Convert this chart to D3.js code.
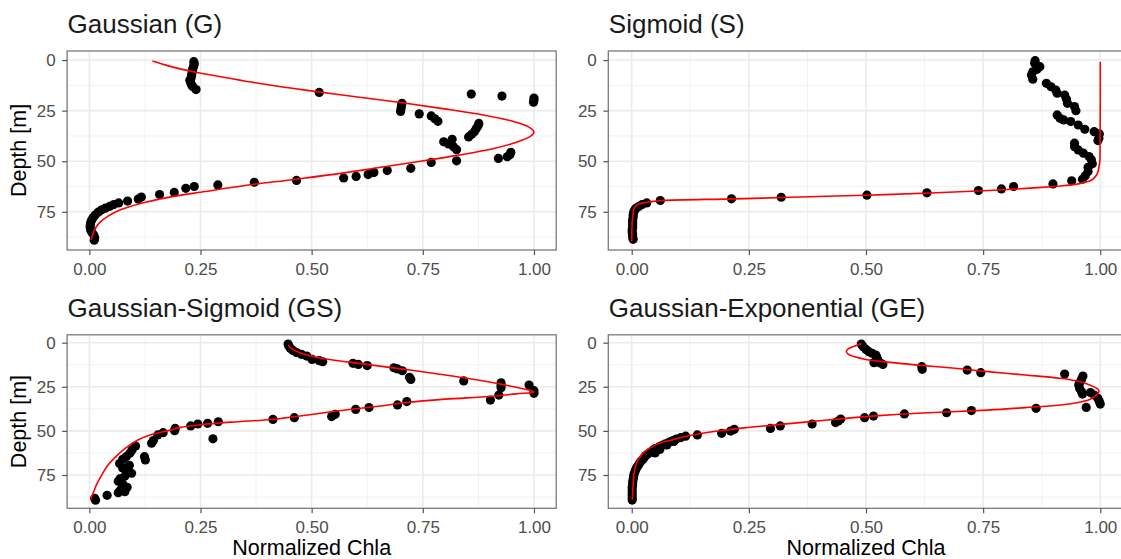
<!DOCTYPE html>
<html>
<head>
<meta charset="utf-8">
<script src="https://cdn.jsdelivr.net/npm/d3@7"></script>
<style>
body { margin: 0; background: #fff; }
text { font-family: "Liberation Sans", Arial, Helvetica, sans-serif; }
</style>
</head>
<body>
<svg id="chart" width="1121" height="559"></svg>
<script>
// panel titles and axis labels
var titles = ["Gaussian (G)", "Sigmoid (S)", "Gaussian-Sigmoid (GS)", "Gaussian-Exponential (GE)"];
var xTicks = [0, 0.25, 0.5, 0.75, 1];
var yTicks = [0, 25, 50, 75];
var xLabel = "Normalized Chla", yLabel = "Depth [m]";

// observed profiles: [normalized chla, depth]
var gPoints = [[0.235,0.8],[0.236,1.8],[0.235,2.8],[0.233,4],[0.232,5.2],[0.231,6.3],[0.230,7.5],[0.229,8.7],[0.226,10],[0.228,11.2],[0.230,12.3],[0.233,13.2],[0.240,14.6],
  [0.517,16.0],[0.859,16.8],[0.928,17.8],[1.0,18.8],[1.0,19.8],[0.999,20.8],
  [0.703,21.4],[0.702,22.6],[0.701,24.0],[0.700,25.4],[0.742,26.6],[0.769,27.6],[0.777,29.0],[0.784,30.3],
  [0.876,31.3],[0.874,32.6],[0.870,34.0],[0.866,35.4],[0.860,36.7],[0.853,38.0],
  [0.816,39.2],[0.797,40.4],[0.808,41.5],[0.819,42.8],[0.826,44.3],
  [0.948,45.6],[0.946,46.8],[0.940,47.8],[0.920,48.6],[0.826,49.8],[0.769,50.6],
  [0.723,53.5],[0.670,54.6],[0.640,55.6],[0.627,56.6],[0.600,57.5],[0.572,58.3],
  [0.466,59.5],[0.371,60.4],[0.289,61.7],[0.236,62.5],[0.217,63.4],[0.191,65.4],[0.158,66.5],[0.117,67.7],[0.110,68.7],
  [0.086,69.7],[0.066,70.6],[0.055,71.4],[0.046,72.3],[0.036,73.2],[0.028,74.0],[0.020,75.2],[0.013,76.6],[0.008,78.0],
  [0.005,79.2],[0.003,80.4],[0.002,81.6],[0.002,82.8],[0.003,84.0],[0.006,85.2],[0.010,86.5],[0.012,87.8],[0.011,89.0]];

var sPoints = [[0.861,0.3],[0.860,1.6],[0.871,3.3],[0.865,4.6],[0.856,5.8],[0.853,7.4],[0.856,9.5],
  [0.885,11.5],[0.895,13.2],[0.905,14.8],[0.908,16.4],[0.924,17.3],[0.928,19.4],[0.930,21.4],[0.945,23.0],[0.948,25.0],
  [0.908,27.1],[0.914,28.8],[0.922,29.6],[0.937,30.4],[0.953,32.1],[0.967,34.2],[0.987,35.4],[0.998,36.5],[0.997,38.7],[0.995,39.8],
  [0.945,41.1],[0.945,42.8],[0.953,44.4],[0.964,46.0],[0.976,47.7],[0.981,49.3],[0.983,51.3],[0.974,53.0],[0.974,55.1],[0.968,57.2],[0.962,58.9],
  [0.939,59.7],[0.899,61.2],[0.815,62.5],[0.789,63.7],[0.740,64.5],[0.630,65.6],[0.502,66.8],[0.319,67.8],[0.213,68.6],
  [0.061,69.4],[0.032,70.6],[0.022,71.4],[0.015,72.4],[0.009,73.3],[0.006,74.2],[0.004,75.4],[0.003,76.6],[0.003,77.8],
  [0.002,79.0],[0.002,80.2],[0.002,81.4],[0.002,82.6],[0.001,83.8],[0.001,85.0],[0.002,86.2],[0.002,87.4],[0.003,88.6]];

var gsPoints = [[0.447,0.8],[0.449,2.0],[0.452,3.2],[0.458,4.4],[0.466,5.6],[0.477,6.6],[0.489,7.6],[0.501,9.5],[0.517,10.2],[0.525,10.8],
  [0.593,11.7],[0.605,12.3],[0.625,13.0],[0.685,14.2],[0.693,14.9],[0.704,15.9],[0.720,19.6],[0.723,20.8],
  [0.842,21.7],[0.926,22.7],[0.926,24.2],[0.926,25.5],[0.989,24.0],[1.0,27.2],[1.0,28.7],[0.921,29.7],[0.902,32.5],
  [0.714,33.4],[0.693,35.3],[0.629,36.8],[0.599,37.8],[0.553,40.6],[0.545,41.9],[0.461,42.5],[0.413,43.5],
  [0.290,44.8],[0.266,45.7],[0.244,46.1],[0.228,47.2],[0.193,48.6],[0.192,49.9],[0.166,51.0],[0.154,52.3],
  [0.144,55.5],[0.140,57.0],[0.278,54.5],[0.104,58.6],[0.096,60.8],[0.091,62.7],[0.083,64.6],[0.075,66.1],[0.124,64.6],[0.126,66.5],
  [0.068,68.5],[0.090,69.5],[0.075,71.0],[0.088,72.5],[0.095,74.0],[0.080,75.5],[0.070,77.0],[0.065,78.5],[0.075,80.0],
  [0.085,82.0],[0.070,83.5],[0.065,85.0],[0.080,84.5],[0.040,86.5],[0.012,88.2],[0.014,89.3]];

var gePoints = [[0.490,0.8],[0.494,2.3],[0.500,3.8],[0.506,5.1],[0.513,6.0],[0.521,7.0],[0.523,8.3],[0.525,9.8],[0.529,11.3],[0.517,11.3],[0.536,12.3],
  [0.619,13.6],[0.620,15.1],[0.716,15.5],[0.745,17.0],[0.924,17.8],
  [0.963,18.9],[0.960,20.8],[0.956,22.7],[0.954,24.0],[0.956,25.9],[0.960,27.8],[0.962,29.1],
  [0.979,28.3],[0.987,29.7],[0.995,31.6],[0.998,33.4],[1.0,34.8],[0.970,36.7],
  [0.863,37.2],[0.725,38.5],[0.672,39.7],[0.582,40.4],[0.516,41.6],[0.497,42.5],[0.446,43.3],[0.441,44.4],[0.435,45.3],
  [0.385,46.1],[0.317,47.2],[0.296,48.6],[0.219,49.1],[0.211,50.1],[0.192,51.4],[0.140,52.3],
  [0.115,53.0],[0.105,53.8],[0.095,54.6],[0.088,55.5],[0.090,56.0],[0.080,56.4],[0.072,57.3],[0.075,58.0],[0.065,58.2],
  [0.058,59.1],[0.050,60.0],[0.060,60.5],[0.045,61.0],[0.040,62.0],[0.050,62.5],[0.035,63.0],[0.030,64.0],[0.027,65.0],
  [0.024,66.0],[0.020,67.0],[0.017,68.2],[0.014,69.4],[0.011,70.6],[0.009,71.8],[0.007,73.0],[0.005,74.5],[0.004,76.0],
  [0.003,77.5],[0.002,79.0],[0.002,80.5],[0.001,82.0],[0.001,83.5],[0.001,85.0],[0.001,86.5],[0.001,88.0],[0.001,89.2]];

// fitted curves: [depth, normalized chla]
var gCurve = [[0.5,0.142],[3,0.18],[6,0.24],[9,0.315],[12,0.395],[15,0.49],[18,0.595],[21,0.70],[24,0.795],[27,0.883],[30,0.948],[33,0.988],[35.7,1.0],
  [38,0.99],[41,0.955],[44,0.905],[47,0.83],[50,0.745],[53,0.655],[56,0.565],[59,0.46],[62,0.35],[65,0.26],[68,0.175],[71,0.113],
  [74,0.07],[77,0.043],[80,0.025],[83,0.014],[86,0.008],[89,0.004]];

var sCurve = [[0.8,1.0],[20,1.0],[40,0.9995],[50,0.999],[53,0.997],[56,0.994],[58,0.988],[59.5,0.98],[60.5,0.965],[61.3,0.95],[62,0.925],
  [62.5,0.9],[63.3,0.85],[64,0.8],[64.6,0.75],[65.6,0.65],[66.8,0.5],[67.8,0.34],[68.6,0.22],[69.4,0.065],[70,0.04],[70.7,0.022],
  [71.5,0.012],[72.5,0.007],[74,0.004],[76,0.003],[80,0.001],[89.5,0.0]];

var gsCurve = [[1.3,0.447],[3,0.453],[5,0.467],[7,0.49],[9,0.525],[11,0.585],[13,0.645],[15,0.705],[17,0.765],[19,0.82],[21,0.87],[23,0.915],
  [25,0.955],[27,0.99],[28,1.0],[29,0.96],[30.5,0.9],[32,0.8],[34,0.71],[36,0.65],[38,0.58],[40,0.52],[42,0.46],[43.5,0.41],[45,0.32],
  [46.5,0.25],[48,0.205],[50,0.175],[52,0.14],[55,0.11],[60,0.08],[65,0.058],[70,0.04],[75,0.028],[80,0.017],[85,0.009],[89,0.003]];

var geCurve = [[0.4,0.49],[2,0.475],[3.5,0.462],[5,0.458],[6.5,0.462],[8,0.476],[9.5,0.50],[11,0.545],[12.7,0.61],[14.5,0.69],[16.4,0.76],
  [18.3,0.84],[20.2,0.914],[22,0.955],[23.8,0.976],[25.5,0.99],[27,0.997],[28.5,0.996],[29.7,0.991],[31,0.985],[32.5,0.975],[34,0.95],
  [35.3,0.914],[36.8,0.84],[38.2,0.76],[40,0.61],[41.5,0.52],[42.9,0.456],[45,0.37],[46.7,0.303],[48.3,0.24],[49.9,0.188],[51.5,0.148],
  [53.3,0.112],[55,0.088],[57,0.059],[59.5,0.04],[61.8,0.028],[64,0.02],[66.5,0.013],[70,0.008],[74,0.005],[80,0.003],[89,0.0015]];

var depthLimits = [0, 89.4];

var svg = d3.select("#chart");

var panels = [
  {title: titles[0], pts: gPoints, fit: gCurve, xr: [67.1, 556.2], yr: [51, 250], yTitle: true, xTitle: false},
  {title: titles[1], pts: sPoints, fit: sCurve, xr: [608.3, 1123.7], yr: [51, 250], yTitle: false, xTitle: false},
  {title: titles[2], pts: gsPoints, fit: gsCurve, xr: [67.1, 556.2], yr: [334.8, 508.3], yTitle: true, xTitle: true},
  {title: titles[3], pts: gePoints, fit: geCurve, xr: [608.3, 1123.7], yr: [334.8, 508.3], yTitle: false, xTitle: true}
];

var pad = 0.05 * (depthLimits[1] - depthLimits[0]);
var fmt = d3.format(".2f");

panels.forEach(function(p, i) {
  var x = d3.scaleLinear().domain([-0.05, 1.05]).range(p.xr);
  var y = d3.scaleLinear().domain([depthLimits[0] - pad, depthLimits[1] + pad]).range(p.yr);
  var w = p.xr[1] - p.xr[0], h = p.yr[1] - p.yr[0];

  var g = svg.append("g");

  g.append("clipPath").attr("id", "clip" + i)
    .append("rect")
    .attr("x", p.xr[0]).attr("y", p.yr[0])
    .attr("width", w).attr("height", h);

  // minor + major grid
  var xMinor = xTicks.slice(1).map(function(t, k) { return (t + xTicks[k]) / 2; });
  var yMinor = yTicks.map(function(t) { return t + 12.5; });
  var grid = g.append("g").attr("clip-path", "url(#clip" + i + ")");
  grid.selectAll(".xm").data(xMinor).enter().append("line")
    .attr("x1", x).attr("x2", x).attr("y1", p.yr[0]).attr("y2", p.yr[1])
    .style("stroke", "#f0f0f0").style("stroke-width", 0.9);
  grid.selectAll(".ym").data(yMinor).enter().append("line")
    .attr("y1", y).attr("y2", y).attr("x1", p.xr[0]).attr("x2", p.xr[1])
    .style("stroke", "#f0f0f0").style("stroke-width", 0.9);
  grid.selectAll(".xM").data(xTicks).enter().append("line")
    .attr("x1", x).attr("x2", x).attr("y1", p.yr[0]).attr("y2", p.yr[1])
    .style("stroke", "#ebebeb").style("stroke-width", 1.6);
  grid.selectAll(".yM").data(yTicks).enter().append("line")
    .attr("y1", y).attr("y2", y).attr("x1", p.xr[0]).attr("x2", p.xr[1])
    .style("stroke", "#ebebeb").style("stroke-width", 1.6);

  var plot = g.append("g").attr("clip-path", "url(#clip" + i + ")");
  plot.selectAll("circle")
    .data(p.pts)
    .enter().append("circle")
    .attr("cx", function(d) { return x(d[0]); })
    .attr("cy", function(d) { return y(d[1]); })
    .attr("r", 4.6)
    .style("fill", "#000");

  var line = d3.line()
    .x(function(d) { return x(d[1]); })
    .y(function(d) { return y(d[0]); })
    .curve(d3.curveCatmullRom);
  plot.append("path")
    .datum(p.fit)
    .attr("d", line)
    .style("fill", "none")
    .style("stroke", "#ff0000")
    .style("stroke-width", 1.6);

  // panel border
  g.append("rect")
    .attr("x", p.xr[0]).attr("y", p.yr[0])
    .attr("width", w).attr("height", h)
    .style("fill", "none").style("stroke", "#7a7a7a").style("stroke-width", 1.3);

  // axes
  var xAxis = g.append("g")
    .attr("transform", "translate(0," + p.yr[1] + ")")
    .call(d3.axisBottom(x).tickValues(xTicks).tickFormat(fmt).tickSize(5).tickPadding(8).tickSizeOuter(0));
  var yAxis = g.append("g")
    .attr("transform", "translate(" + p.xr[0] + ",0)")
    .call(d3.axisLeft(y).tickValues(yTicks).tickSize(5).tickPadding(6.5).tickSizeOuter(0));
  [xAxis, yAxis].forEach(function(a) {
    a.select(".domain").remove();
    a.selectAll(".tick line").style("stroke", "#555").style("stroke-width", 1.2);
    a.selectAll(".tick text")
      .style("font-size", "17px")
      .style("fill", "#4d4d4d")
      .style("font-family", "'Liberation Sans', Arial, sans-serif");
  });

  // title
  g.append("text")
    .attr("x", p.xr[0] + 0.5)
    .attr("y", p.yr[0] - 18)
    .style("font-size", "26px")
    .style("fill", "#1a1a1a")
    .text(p.title);

  if (p.yTitle) {
    g.append("text")
      .attr("transform", "translate(26," + ((p.yr[0] + p.yr[1]) / 2) + ")rotate(-90)")
      .attr("text-anchor", "middle")
      .style("font-size", "21.5px")
      .style("fill", "#000")
      .text(yLabel);
  }
  if (p.xTitle) {
    g.append("text")
      .attr("x", (p.xr[0] + p.xr[1]) / 2)
      .attr("y", 555)
      .attr("text-anchor", "middle")
      .style("font-size", "21.5px")
      .style("fill", "#000")
      .text(xLabel);
  }
});
</script>
</body>
</html>
